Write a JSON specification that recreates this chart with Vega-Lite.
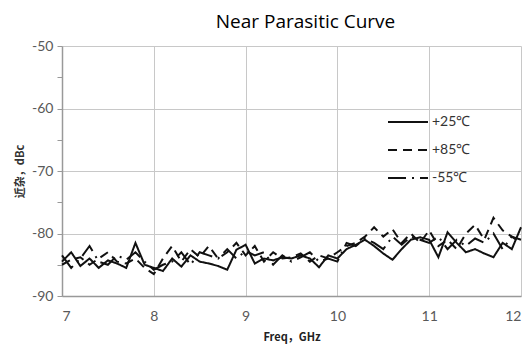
{
  "$schema": "https://vega.github.io/schema/vega-lite/v6.json",
  "width": 459,
  "height": 250,
  "autosize": {"type": "none"},
  "padding": {"left": 62, "top": 46, "right": 9, "bottom": 55},
  "background": "white",
  "title": {"text": "Near Parasitic Curve", "font": "Open Sans", "fontSize": 19, "fontWeight": "normal", "color": "#000", "anchor": "middle", "dx": 14, "dy": 24, "offset": 16, "baseline": "alphabetic"},
  "config": {"view": {"stroke": null}},
  "data": {"values": [
    {"f":7.0,"v":-84.5,"s":"+25℃"},{"f":7.1,"v":-83.0,"s":"+25℃"},{"f":7.2,"v":-85.2,"s":"+25℃"},{"f":7.3,"v":-84.0,"s":"+25℃"},{"f":7.4,"v":-85.5,"s":"+25℃"},{"f":7.5,"v":-84.3,"s":"+25℃"},{"f":7.6,"v":-84.8,"s":"+25℃"},{"f":7.7,"v":-85.5,"s":"+25℃"},{"f":7.8,"v":-81.5,"s":"+25℃"},{"f":7.9,"v":-85.0,"s":"+25℃"},
    {"f":8.0,"v":-85.5,"s":"+25℃"},{"f":8.1,"v":-86.0,"s":"+25℃"},{"f":8.2,"v":-84.0,"s":"+25℃"},{"f":8.3,"v":-85.3,"s":"+25℃"},{"f":8.4,"v":-83.5,"s":"+25℃"},{"f":8.5,"v":-84.5,"s":"+25℃"},{"f":8.6,"v":-84.8,"s":"+25℃"},{"f":8.7,"v":-85.2,"s":"+25℃"},{"f":8.8,"v":-85.8,"s":"+25℃"},{"f":8.9,"v":-82.6,"s":"+25℃"},
    {"f":9.0,"v":-81.8,"s":"+25℃"},{"f":9.1,"v":-84.8,"s":"+25℃"},{"f":9.2,"v":-84.0,"s":"+25℃"},{"f":9.3,"v":-84.3,"s":"+25℃"},{"f":9.4,"v":-83.8,"s":"+25℃"},{"f":9.5,"v":-84.0,"s":"+25℃"},{"f":9.6,"v":-83.5,"s":"+25℃"},{"f":9.7,"v":-84.0,"s":"+25℃"},{"f":9.8,"v":-85.4,"s":"+25℃"},{"f":9.9,"v":-83.5,"s":"+25℃"},
    {"f":10.0,"v":-84.0,"s":"+25℃"},{"f":10.1,"v":-82.5,"s":"+25℃"},{"f":10.2,"v":-81.8,"s":"+25℃"},{"f":10.3,"v":-81.0,"s":"+25℃"},{"f":10.4,"v":-82.0,"s":"+25℃"},{"f":10.5,"v":-83.2,"s":"+25℃"},{"f":10.6,"v":-84.2,"s":"+25℃"},{"f":10.7,"v":-82.5,"s":"+25℃"},{"f":10.8,"v":-81.0,"s":"+25℃"},{"f":10.9,"v":-80.6,"s":"+25℃"},
    {"f":11.0,"v":-81.0,"s":"+25℃"},{"f":11.1,"v":-83.8,"s":"+25℃"},{"f":11.2,"v":-79.8,"s":"+25℃"},{"f":11.3,"v":-81.5,"s":"+25℃"},{"f":11.4,"v":-83.0,"s":"+25℃"},{"f":11.5,"v":-82.5,"s":"+25℃"},{"f":11.6,"v":-83.2,"s":"+25℃"},{"f":11.7,"v":-83.8,"s":"+25℃"},{"f":11.8,"v":-81.5,"s":"+25℃"},{"f":11.9,"v":-82.5,"s":"+25℃"},{"f":12.0,"v":-79.0,"s":"+25℃"},
    {"f":7.0,"v":-85.0,"s":"+85℃"},{"f":7.1,"v":-84.2,"s":"+85℃"},{"f":7.2,"v":-83.8,"s":"+85℃"},{"f":7.3,"v":-85.0,"s":"+85℃"},{"f":7.4,"v":-84.0,"s":"+85℃"},{"f":7.5,"v":-83.0,"s":"+85℃"},{"f":7.6,"v":-84.5,"s":"+85℃"},{"f":7.7,"v":-84.8,"s":"+85℃"},{"f":7.8,"v":-84.0,"s":"+85℃"},{"f":7.9,"v":-85.5,"s":"+85℃"},
    {"f":8.0,"v":-86.5,"s":"+85℃"},{"f":8.1,"v":-84.0,"s":"+85℃"},{"f":8.2,"v":-82.0,"s":"+85℃"},{"f":8.3,"v":-84.5,"s":"+85℃"},{"f":8.4,"v":-82.5,"s":"+85℃"},{"f":8.5,"v":-83.8,"s":"+85℃"},{"f":8.6,"v":-82.0,"s":"+85℃"},{"f":8.7,"v":-84.0,"s":"+85℃"},{"f":8.8,"v":-83.0,"s":"+85℃"},{"f":8.9,"v":-81.5,"s":"+85℃"},
    {"f":9.0,"v":-83.5,"s":"+85℃"},{"f":9.1,"v":-82.0,"s":"+85℃"},{"f":9.2,"v":-84.5,"s":"+85℃"},{"f":9.3,"v":-83.0,"s":"+85℃"},{"f":9.4,"v":-84.0,"s":"+85℃"},{"f":9.5,"v":-83.8,"s":"+85℃"},{"f":9.6,"v":-83.2,"s":"+85℃"},{"f":9.7,"v":-84.5,"s":"+85℃"},{"f":9.8,"v":-83.5,"s":"+85℃"},{"f":9.9,"v":-84.0,"s":"+85℃"},
    {"f":10.0,"v":-83.0,"s":"+85℃"},{"f":10.1,"v":-82.0,"s":"+85℃"},{"f":10.2,"v":-81.5,"s":"+85℃"},{"f":10.3,"v":-80.5,"s":"+85℃"},{"f":10.4,"v":-79.0,"s":"+85℃"},{"f":10.5,"v":-80.5,"s":"+85℃"},{"f":10.6,"v":-79.3,"s":"+85℃"},{"f":10.7,"v":-81.5,"s":"+85℃"},{"f":10.8,"v":-80.0,"s":"+85℃"},{"f":10.9,"v":-81.5,"s":"+85℃"},
    {"f":11.0,"v":-79.5,"s":"+85℃"},{"f":11.1,"v":-82.0,"s":"+85℃"},{"f":11.2,"v":-81.0,"s":"+85℃"},{"f":11.3,"v":-82.5,"s":"+85℃"},{"f":11.4,"v":-80.0,"s":"+85℃"},{"f":11.5,"v":-78.6,"s":"+85℃"},{"f":11.6,"v":-81.0,"s":"+85℃"},{"f":11.7,"v":-77.5,"s":"+85℃"},{"f":11.8,"v":-79.5,"s":"+85℃"},{"f":11.9,"v":-80.5,"s":"+85℃"},{"f":12.0,"v":-81.5,"s":"+85℃"},
    {"f":7.0,"v":-83.5,"s":"-55℃"},{"f":7.1,"v":-85.5,"s":"-55℃"},{"f":7.2,"v":-84.0,"s":"-55℃"},{"f":7.3,"v":-82.0,"s":"-55℃"},{"f":7.4,"v":-84.5,"s":"-55℃"},{"f":7.5,"v":-85.0,"s":"-55℃"},{"f":7.6,"v":-83.5,"s":"-55℃"},{"f":7.7,"v":-84.2,"s":"-55℃"},{"f":7.8,"v":-83.0,"s":"-55℃"},{"f":7.9,"v":-84.5,"s":"-55℃"},
    {"f":8.0,"v":-85.8,"s":"-55℃"},{"f":8.1,"v":-85.0,"s":"-55℃"},{"f":8.2,"v":-84.5,"s":"-55℃"},{"f":8.3,"v":-83.0,"s":"-55℃"},{"f":8.4,"v":-85.0,"s":"-55℃"},{"f":8.5,"v":-83.0,"s":"-55℃"},{"f":8.6,"v":-83.5,"s":"-55℃"},{"f":8.7,"v":-84.0,"s":"-55℃"},{"f":8.8,"v":-82.5,"s":"-55℃"},{"f":8.9,"v":-84.0,"s":"-55℃"},
    {"f":9.0,"v":-82.8,"s":"-55℃"},{"f":9.1,"v":-83.5,"s":"-55℃"},{"f":9.2,"v":-83.0,"s":"-55℃"},{"f":9.3,"v":-85.0,"s":"-55℃"},{"f":9.4,"v":-83.5,"s":"-55℃"},{"f":9.5,"v":-84.5,"s":"-55℃"},{"f":9.6,"v":-83.8,"s":"-55℃"},{"f":9.7,"v":-83.0,"s":"-55℃"},{"f":9.8,"v":-84.5,"s":"-55℃"},{"f":9.9,"v":-84.0,"s":"-55℃"},
    {"f":10.0,"v":-84.5,"s":"-55℃"},{"f":10.1,"v":-81.5,"s":"-55℃"},{"f":10.2,"v":-82.0,"s":"-55℃"},{"f":10.3,"v":-80.8,"s":"-55℃"},{"f":10.4,"v":-81.5,"s":"-55℃"},{"f":10.5,"v":-82.5,"s":"-55℃"},{"f":10.6,"v":-80.5,"s":"-55℃"},{"f":10.7,"v":-81.8,"s":"-55℃"},{"f":10.8,"v":-80.5,"s":"-55℃"},{"f":10.9,"v":-81.0,"s":"-55℃"},
    {"f":11.0,"v":-81.5,"s":"-55℃"},{"f":11.1,"v":-80.5,"s":"-55℃"},{"f":11.2,"v":-82.5,"s":"-55℃"},{"f":11.3,"v":-81.0,"s":"-55℃"},{"f":11.4,"v":-82.0,"s":"-55℃"},{"f":11.5,"v":-80.8,"s":"-55℃"},{"f":11.6,"v":-81.5,"s":"-55℃"},{"f":11.7,"v":-80.0,"s":"-55℃"},{"f":11.8,"v":-82.5,"s":"-55℃"},{"f":11.9,"v":-80.5,"s":"-55℃"},{"f":12.0,"v":-81.0,"s":"-55℃"}
  ]},
  "mark": {"type": "line", "color": "#111", "strokeWidth": 2},
  "encoding": {
    "x": {"field": "f", "type": "quantitative", "scale": {"domain": [7, 12], "nice": false, "zero": false},
      "axis": {"title": "Freq，GHz", "values": [7, 8, 9, 10, 11, 12], "format": "d", "ticks": false, "labelPadding": 13, "labelFont": "Lato", "labelFontSize": 14, "labelColor": "#595959", "domainColor": "#999", "domainWidth": 1.5, "gridColor": "#c8c8c8", "titleFont": "Noto Sans CJK SC", "titleFontWeight": "bold", "titleFontSize": 11, "titleColor": "#222", "titlePadding": 8}},
    "y": {"field": "v", "type": "quantitative", "scale": {"domain": [-90, -50], "nice": false, "zero": false},
      "axis": {"title": "近杂，dBc", "values": [-90, -85, -80, -75, -70, -65, -60, -55, -50], "labelExpr": "datum.value % 10 === 0 ? ('' + datum.value) : ''", "tickSize": 5, "tickColor": "#999", "labelPadding": 4, "labelFont": "Lato", "labelFontSize": 14, "labelColor": "#595959", "domainColor": "#999", "domainWidth": 1.5, "gridColor": "#c8c8c8", "gridOpacity": {"condition": {"test": "datum.value % 10 !== 0", "value": 0}, "value": 1}, "titleFont": "Noto Sans CJK SC", "titleFontWeight": "bold", "titleFontSize": 11, "titleColor": "#333", "titlePadding": 6}},
    "strokeDash": {"field": "s", "type": "nominal", "sort": ["+25℃", "+85℃", "-55℃"],
      "scale": {"domain": ["+25℃", "+85℃", "-55℃"], "range": [[1, 0], [9, 6], [18, 6, 2, 6]]},
      "legend": {"title": null, "orient": "none", "legendX": 335, "legendY": 65, "symbolType": "M-2,0H2", "symbolSize": 400, "symbolStrokeWidth": 2, "symbolStrokeColor": "#111", "symbolFillColor": "transparent", "labelOffset": 13, "rowPadding": 10, "labelFont": "Lato", "labelFontSize": 14, "labelColor": "#333"}}
  }
}
